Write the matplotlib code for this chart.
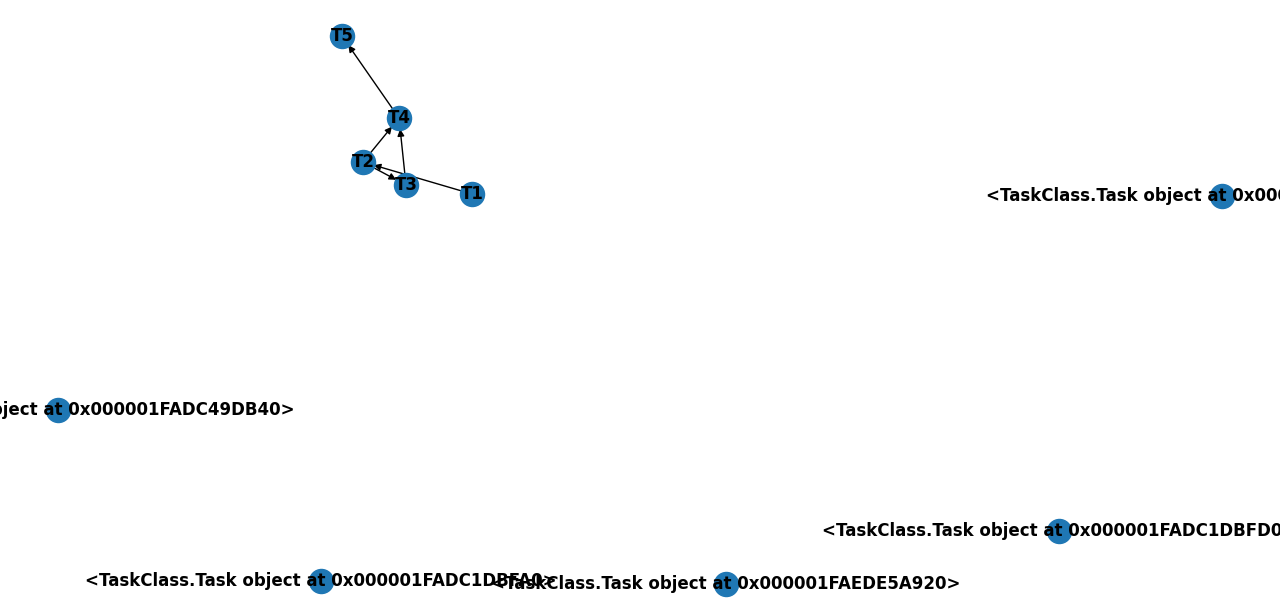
import matplotlib
matplotlib.use("Agg")
import matplotlib.pyplot as plt
from matplotlib.patches import FancyArrowPatch

nodes = ["T5", "T4", "T2", "T3", "T1",
         "<TaskClass.Task object at 0x000001FADC1DBF40>",
         "<TaskClass.Task object at 0x000001FADC49DB40>",
         "<TaskClass.Task object at 0x000001FADC1DBFD0>",
         "<TaskClass.Task object at 0x000001FADC1DBFA0>",
         "<TaskClass.Task object at 0x000001FAEDE5A920>"]
pos_x = [342, 399, 363, 406, 472, 1222, 58, 1059, 321, 726]
pos_y = [36, 118, 162, 185, 194, 196, 410, 531, 581, 584]
edges = [("T1", "T2"), ("T2", "T3"), ("T2", "T4"), ("T3", "T4"), ("T4", "T5")]

fig = plt.figure(figsize=(12.8, 6.12), dpi=100)
ax = fig.add_axes([0, 0, 1, 1])
ax.set_xlim(0, 1280)
ax.set_ylim(612, 0)
ax.axis("off")

pos = {n: (x, y) for n, x, y in zip(nodes, pos_x, pos_y)}
for u, v in edges:
    a = FancyArrowPatch(pos[u], pos[v], arrowstyle="-|>", mutation_scale=10,
                        color="black", lw=1, shrinkA=8, shrinkB=8, zorder=1)
    ax.add_patch(a)
ax.scatter(pos_x, pos_y, s=300, c="#1f77b4", zorder=2)
for n, x, y in zip(nodes, pos_x, pos_y):
    ax.text(x, y, n, ha="center", va="center", fontsize=12,
            fontweight="bold", zorder=3, clip_on=False)

fig.savefig("out.png", dpi=100)
